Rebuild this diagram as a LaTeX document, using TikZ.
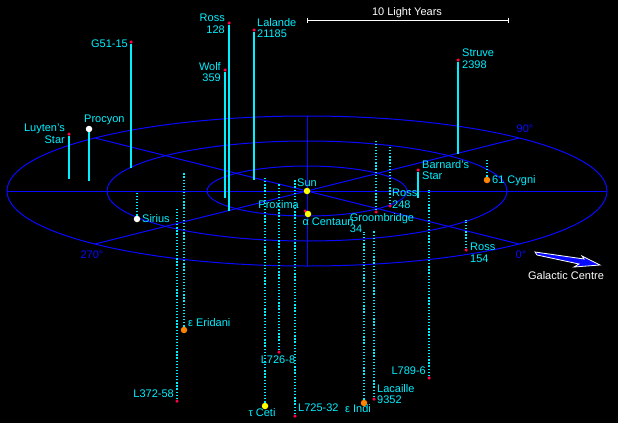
\documentclass[tikz,border=0pt]{standalone}
\usepackage{fontspec}
\setmainfont{Liberation Sans}
\usetikzlibrary{calc}
\begin{document}
\begin{tikzpicture}[x=1pt,y=-1pt,
  font=\fontsize{11}{11.5}\selectfont,
  lab/.style={text=cyanc,inner sep=1pt,align=left},
  grid/.style={draw=bluec,line width=1pt},
  redstar/.style={circle,fill=redc,inner sep=0pt,minimum size=3.5pt},
  bigstar/.style={circle,fill=#1,inner sep=0pt,minimum size=6.5pt},
  solidstem/.style={draw=cyanc,line width=1.1pt},
  dotstem/.style={draw=cyanc,line width=1.3pt,dash pattern=on 1.3pt off 1.8pt}]
\definecolor{cyanc}{RGB}{0,240,255}
\definecolor{bluec}{RGB}{10,10,255}
\definecolor{redc}{RGB}{255,0,70}
\definecolor{orangec}{RGB}{255,130,0}
\definecolor{yellowc}{RGB}{255,255,0}
\fill[black] (0,0) rectangle (618,423);
\useasboundingbox (0,0) rectangle (618,423);
% grid
\coordinate (c) at (307,191);
\draw[grid] (c) ellipse [x radius=300,y radius=75];
\draw[grid] (c) ellipse [x radius=200,y radius=50];
\draw[grid] (c) ellipse [x radius=100,y radius=25];
\draw[grid] (7,191) -- (607,191);
\draw[grid] (307,116) -- (307,266);
\draw[grid] (95,138) -- (519,244);
\draw[grid] (95,244) -- (519,138);
\node[text=bluec,inner sep=0pt] (a90) at (525,129) {90°};
\node[text=bluec,inner sep=0pt] (a0) at (521,255) {0°};
\node[text=bluec,inner sep=0pt] (a270) at (92,255) {270°};
% scale bar
\coordinate (s1) at (307,20); \coordinate (s2) at (508,20);
\draw[white,line width=1pt] (s1) -- (s2);
\draw[white,line width=1pt] ($(s1)+(0,-2.5)$) -- ($(s1)+(0,2.5)$);
\draw[white,line width=1pt] ($(s2)+(0,-2.5)$) -- ($(s2)+(0,2.5)$);
\node[text=white,inner sep=0pt] (scl) at (407,13) {10 Light Years};
% galactic centre arrow
\filldraw[draw=white,fill=bluec,line width=0.8pt] (535,252) -- (584,259) -- (582,256) -- (600,265) -- (574,267) -- (579,264) -- (537,255) -- cycle;
\node[text=white,inner sep=0pt] (gc) at (566,276) {Galactic Centre};
% plane points
\foreach \n/\x/\y in {pLuy/69/179,pPro/89/181,pG51/131/168,pR128/229/211,pWolf/225/198,pLal/254/180,pStr/458/154,pBar/418/198,
  pCyg/487/160,pSir/137/193,pR248/390/146,pGro/376/140,pR154/466/220,pEri/184/173,pL372/177/209,pL726/279/183,pTau/265/178,
  pL725/295/180,pInd/364/232,pLac/374/231,pL789/429/190}
  \coordinate (\n) at (\x,\y);
% stars
\node[redstar] (luy) at (69,134) {};
\node[bigstar=white] (pro) at (89,129) {};
\node[redstar] (g51) at (131,42) {};
\node[redstar] (r128) at (229,23) {};
\node[redstar] (wolf) at (225,70) {};
\node[redstar] (lal) at (254,30) {};
\node[redstar] (str) at (458,60) {};
\node[redstar] (bar) at (418,170) {};
\node[bigstar=orangec] (cyg) at (487,180) {};
\node[bigstar=yellowc] (sun) at (307,191) {};
\node[redstar] (prox) at (305,211) {};
\node[bigstar=yellowc] (acen) at (308,214) {};
\node[bigstar=white] (sir) at (137,219) {};
\node[redstar] (r248) at (390,206) {};
\node[redstar] (gro) at (376,212) {};
\node[redstar] (r154) at (466,250) {};
\node[bigstar=orangec] (eri) at (184,330) {};
\node[redstar] (l372) at (177,401) {};
\node[redstar] (l726) at (279,352) {};
\node[bigstar=yellowc] (tau) at (265,406) {};
\node[redstar] (l725) at (295,416) {};
\node[bigstar=orangec] (ind) at (364,403) {};
\node[redstar] (lac) at (374,399) {};
\node[redstar] (l789) at (429,378) {};
% stems
\foreach \s/\p in {luy/pLuy,pro/pPro,g51/pG51,r128/pR128,wolf/pWolf,lal/pLal,str/pStr,bar/pBar}
  \draw[solidstem] (\s) -- (\p);
\foreach \s/\p in {cyg/pCyg,sir/pSir,r248/pR248,gro/pGro,r154/pR154,eri/pEri,l372/pL372,l726/pL726,tau/pTau,l725/pL725,ind/pInd,lac/pLac,l789/pL789}
  \draw[dotstem] (\s) -- (\p);
% labels
\node[lab,anchor=north east,align=right] (tLuy) at (66,123) {Luyten's\\Star};
\node[lab,anchor=south west] (tPro) at (83,126) {Procyon};
\node[lab,anchor=east] (tG51) at (129,44) {G51-15};
\node[lab,anchor=north east,align=right] (tR128) at (226,13) {Ross\\128};
\node[lab,anchor=north east,align=right] (tWolf) at (222,61) {Wolf\\359};
\node[lab,anchor=north west] (tLal) at (256,17) {Lalande\\21185};
\node[lab,anchor=north west] (tStr) at (461,48) {Struve\\2398};
\node[lab,anchor=north west] (tBar) at (421,159) {Barnard's\\Star};
\node[lab,anchor=west] (tCyg) at (491,181) {61 Cygni};
\node[lab,anchor=south] (tSun) at (307,188) {Sun};
\node[lab,anchor=south east] (tProx) at (300,210) {Proxima};
\node[lab,anchor=north] (tAcen) at (328,216) {α Centauri};
\node[lab,anchor=west] (tSir) at (141,219) {Sirius};
\node[lab,anchor=north west] (tR248) at (391,188) {Ross\\248};
\node[lab,anchor=north] (tGro) at (382,212) {Groombridge\\34};
\node[lab,anchor=north west] (tR154) at (469,242) {Ross\\154};
\node[lab,anchor=west] (tEri) at (187,323) {ε Eridani};
\node[lab,anchor=east] (tL372) at (175,394) {L372-58};
\node[lab,anchor=north] (tL726) at (278,355) {L726-8};
\node[lab,anchor=north] (tTau) at (262,407) {τ Ceti};
\node[lab,anchor=west] (tL725) at (297,408) {L725-32};
\node[lab,anchor=north] (tInd) at (358,403) {ε Indi};
\node[lab,anchor=north west] (tLac) at (376,383) {Lacaille\\9352};
\node[lab,anchor=east] (tL789) at (427,371) {L789-6};
\end{tikzpicture}
\end{document}
